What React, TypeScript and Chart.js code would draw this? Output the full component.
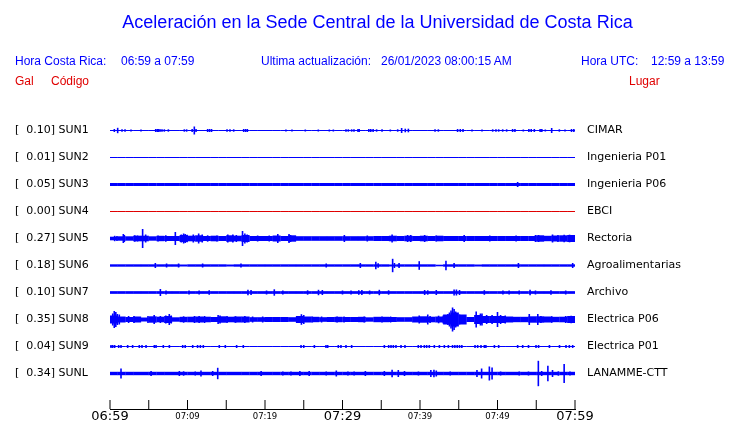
import React, { useEffect, useRef } from 'react';
import { Chart, registerables } from 'chart.js';

Chart.register(...registerables);

// ---------- text ----------
const TITLE = 'Aceleración en la Sede Central de la Universidad de Costa Rica';
const HORA_CR = '06:59 a 07:59';
const ACTUALIZACION = '26/01/2023 08:00:15 AM';
const HORA_UTC = '12:59 a 13:59';

// ---------- stations ----------
const CODES = ['SUN1', 'SUN2', 'SUN3', 'SUN4', 'SUN5', 'SUN6', 'SUN7', 'SUN8', 'SUN9', 'SUNL'];
const PEAK_GAL = [0.1, 0.01, 0.05, 0.0, 0.27, 0.18, 0.1, 0.35, 0.04, 0.34];
const PLACES = ['CIMAR', 'Ingenieria P01', 'Ingenieria P06', 'EBCI', 'Rectoria', 'Agroalimentarias', 'Archivo', 'Electrica P06', 'Electrica P01', 'LANAMME-CTT'];

// ---------- time axis (minutes after 06:59) ----------
const TIME_TICKS = [0, 5, 10, 15, 20, 25, 30, 35, 40, 45, 50, 55, 60];
const TIME_LABELS = ['06:59', '', '07:09', '', '07:19', '', '07:29', '', '07:39', '', '07:49', '', '07:59'];
const TIME_MAJOR = [true, false, false, false, false, false, true, false, false, false, false, false, true];

// ---------- per-minute envelope (half amplitude) of each trace ----------
const SUN1_BASE = [0.5, 0.5, 0.5, 0.5, 0.5, 0.5, 0.5, 0.5, 0.5, 0.5, 0.5, 0.5, 0.5, 0.5, 0.5, 0.5, 0.5, 0.5, 0.5, 0.5, 0.5, 0.5, 0.5, 0.5, 0.5, 0.5, 0.5, 0.5, 0.5, 0.5, 0.5, 0.5, 0.5, 0.5, 0.5, 0.5, 0.5, 0.5, 0.5, 0.5, 0.5, 0.5, 0.5, 0.5, 0.5, 0.5, 0.5, 0.5, 0.5, 0.5, 0.5, 0.5, 0.5, 0.5, 0.5, 0.5, 0.5, 0.5, 0.5, 0.5];
const SUN2_BASE = [0.5, 0.5, 0.5, 0.5, 0.5, 0.5, 0.5, 0.5, 0.5, 0.5, 0.5, 0.5, 0.5, 0.5, 0.5, 0.5, 0.5, 0.5, 0.5, 0.5, 0.5, 0.5, 0.5, 0.5, 0.5, 0.5, 0.5, 0.5, 0.5, 0.5, 0.5, 0.5, 0.5, 0.5, 0.5, 0.5, 0.5, 0.5, 0.5, 0.5, 0.5, 0.5, 0.5, 0.5, 0.5, 0.5, 0.5, 0.5, 0.5, 0.5, 0.5, 0.5, 0.5, 0.5, 0.5, 0.5, 0.5, 0.5, 0.5, 0.5];
const SUN3_BASE = [1.5, 1.5, 1.5, 1.5, 1.5, 1.5, 1.5, 1.5, 1.5, 1.5, 1.5, 1.5, 1.5, 1.5, 1.5, 1.5, 1.5, 1.5, 1.5, 1.5, 1.5, 1.5, 1.5, 1.5, 1.5, 1.5, 1.5, 1.5, 1.5, 1.5, 1.5, 1.5, 1.5, 1.5, 1.5, 1.5, 1.5, 1.5, 1.5, 1.5, 1.5, 1.5, 1.5, 1.5, 1.5, 1.5, 1.5, 1.5, 1.5, 1.5, 1.5, 1.5, 1.5, 1.5, 1.5, 1.5, 1.5, 1.5, 1.5, 1.5];
const SUN4_BASE = [0.5, 0.5, 0.5, 0.5, 0.5, 0.5, 0.5, 0.5, 0.5, 0.5, 0.5, 0.5, 0.5, 0.5, 0.5, 0.5, 0.5, 0.5, 0.5, 0.5, 0.5, 0.5, 0.5, 0.5, 0.5, 0.5, 0.5, 0.5, 0.5, 0.5, 0.5, 0.5, 0.5, 0.5, 0.5, 0.5, 0.5, 0.5, 0.5, 0.5, 0.5, 0.5, 0.5, 0.5, 0.5, 0.5, 0.5, 0.5, 0.5, 0.5, 0.5, 0.5, 0.5, 0.5, 0.5, 0.5, 0.5, 0.5, 0.5, 0.5];
const SUN5_BASE = [1.8, 2.2, 2.2, 2.8, 2.8, 2.2, 2.7, 2.5, 2.5, 3.5, 2.8, 3.2, 2.5, 2.8, 2.5, 3.2, 2.8, 3.5, 2.5, 2.5, 2.5, 3.0, 2.5, 3.2, 2.3, 2.3, 2.3, 2.3, 2.3, 2.3, 2.3, 2.3, 2.3, 2.3, 2.5, 2.5, 2.8, 2.5, 2.8, 2.5, 2.8, 2.5, 2.8, 2.5, 2.5, 2.5, 2.5, 2.5, 2.5, 2.5, 2.5, 2.5, 2.5, 2.5, 2.5, 3.2, 2.7, 3.0, 3.2, 3.5];
const SUN6_BASE = [1.2, 1.2, 1.2, 1.2, 1.2, 1.2, 1.2, 1.2, 1.2, 1.0, 1.2, 1.2, 1.2, 1.2, 1.2, 1.0, 1.2, 1.2, 1.2, 1.2, 1.2, 1.2, 1.2, 1.2, 1.2, 1.2, 1.2, 1.2, 1.2, 1.2, 1.2, 1.2, 1.2, 1.2, 1.2, 1.2, 1.0, 1.2, 1.2, 1.2, 1.2, 1.2, 0.8, 1.2, 1.2, 1.2, 1.2, 1.0, 1.2, 1.2, 1.2, 1.2, 1.2, 1.2, 1.2, 1.2, 1.2, 1.2, 1.2, 1.2];
const SUN7_BASE = [1.35, 1.35, 1.35, 1.35, 1.35, 1.35, 1.35, 1.35, 1.35, 1.35, 1.35, 1.35, 1.35, 1.35, 1.35, 1.35, 1.35, 1.35, 1.35, 1.35, 1.35, 1.35, 1.35, 1.35, 1.35, 1.35, 1.35, 1.35, 1.35, 1.35, 1.35, 1.35, 1.35, 1.35, 1.35, 1.35, 1.35, 1.35, 1.35, 1.35, 1.35, 1.35, 1.35, 1.35, 1.35, 1.35, 1.35, 1.35, 1.35, 1.35, 1.35, 1.35, 1.35, 1.35, 1.35, 1.35, 1.35, 1.35, 1.35, 1.35];
const SUN8_BASE = [4.0, 3.0, 2.5, 3.0, 2.0, 3.2, 2.8, 3.5, 2.2, 2.7, 2.8, 3.0, 2.8, 2.5, 3.2, 2.8, 3.0, 3.0, 2.3, 2.3, 2.5, 2.5, 2.5, 2.3, 3.5, 3.0, 2.7, 2.3, 2.5, 2.7, 2.5, 2.5, 2.7, 2.2, 2.7, 2.7, 2.5, 2.3, 2.3, 3.0, 3.2, 2.8, 3.0, 5.0, 7.0, 5.0, 2.5, 4.5, 3.5, 3.5, 3.5, 3.0, 2.7, 2.7, 3.2, 3.2, 3.0, 2.7, 2.8, 3.5];
const SUN9_BASE = [0.5, 0.5, 0.5, 0.5, 0.5, 0.5, 0.5, 0.5, 0.5, 0.5, 0.5, 0.5, 0.5, 0.5, 0.5, 0.5, 0.5, 0.5, 0.5, 0.5, 0.5, 0.5, 0.5, 0.5, 0.5, 0.5, 0.5, 0.5, 0.5, 0.5, 0.5, 0.5, 0.5, 0.5, 0.5, 0.5, 0.5, 0.5, 0.5, 0.5, 0.5, 0.5, 0.5, 0.5, 0.5, 0.5, 0.5, 0.5, 0.5, 0.5, 0.5, 0.5, 0.5, 0.5, 0.5, 0.5, 0.5, 0.5, 0.5, 0.5];
const SUNL_BASE = [1.7, 1.7, 1.7, 1.7, 1.7, 1.7, 1.7, 1.7, 1.7, 1.7, 1.7, 1.7, 1.7, 1.7, 1.7, 1.7, 1.7, 1.7, 1.7, 1.7, 1.7, 1.7, 1.7, 1.7, 1.7, 1.7, 1.7, 1.7, 1.7, 1.7, 1.7, 1.7, 1.7, 1.7, 1.7, 1.7, 1.7, 1.7, 1.7, 1.7, 1.7, 1.7, 1.7, 1.7, 1.7, 1.7, 1.7, 1.7, 1.7, 1.7, 1.7, 1.7, 1.7, 1.7, 1.7, 1.7, 1.7, 1.7, 1.7, 1.7];

// ---------- individual peaks: [minute, half amplitude] ----------
const SUN1_PEAKS = [[0.56, 1.5], [0.99, 2.7], [1.55, 1.2], [1.94, 1.2], [2.71, 1], [4.0, 1], [5.9, 1.5], [6.1, 1.5], [6.3, 1.5], [6.49, 1.2], [6.71, 1.2], [7.01, 1.2], [7.53, 1.2], [9.59, 1.2], [9.89, 1.2], [10.6, 1.5], [10.88, 4], [11.1, 1.5], [12.6, 1.5], [12.85, 1.5], [13.1, 1.5], [15.1, 1.2], [15.48, 1.2], [15.96, 1.2], [17.25, 1.5], [17.5, 1.5], [17.72, 1.5], [22.7, 1], [23.48, 1], [25.2, 1], [26.88, 1], [28.3, 1], [28.82, 1], [30.45, 1.2], [30.75, 1.2], [31.18, 1.2], [31.48, 1.2], [32.0, 1.5], [32.15, 1.5], [33.4, 1.5], [33.65, 1.5], [33.95, 1.5], [34.4, 1.2], [35.1, 1.2], [36.17, 1], [37.12, 1.2], [37.63, 2.5], [38.1, 1.8], [38.5, 1.8], [41.94, 1.2], [42.37, 1.2], [44.85, 1.5], [45.2, 1.5], [45.55, 1.5], [46.71, 1], [48.0, 1], [49.38, 1.2], [49.8, 1.2], [50.15, 1.2], [50.67, 1.2], [51.18, 1.2], [51.95, 1.5], [52.25, 1.5], [53.33, 1], [54.05, 1.5], [54.35, 1.5], [54.75, 1.5], [55.5, 1.5], [55.72, 1.5], [56.17, 1], [56.99, 2.5], [57.98, 1.2], [58.71, 1], [59.55, 1.5], [59.85, 1.5]];
const SUN2_PEAKS: number[][] = [];
const SUN3_PEAKS = [[52.6, 2.5]];
const SUN4_PEAKS: number[][] = [];
const SUN5_PEAKS = [[0.6, 2.7], [0.9, 2.5], [1.72, 4.5], [1.85, 3.5], [3.2, 3.2], [3.55, 3], [4.21, 9.5], [4.6, 4], [6.2, 3], [7.2, 3.2], [8.43, 6.5], [9.2, 4], [9.5, 5], [9.7, 4.5], [9.95, 3.8], [10.75, 4], [11.44, 5], [11.9, 4], [12.6, 3.2], [13.8, 3], [15.2, 4], [15.85, 4], [16.3, 3.5], [17.1, 7.5], [17.4, 5], [17.7, 4], [19.05, 3], [20.55, 3], [21.65, 4.5], [23.1, 4.5], [23.3, 3.5], [30.24, 3.5], [33.2, 3], [36.4, 4], [38.4, 3.5], [38.8, 3.5], [40.6, 3.5], [42.1, 3], [45.7, 3.5], [49.0, 3], [52.4, 3], [54.9, 3.5], [55.3, 3.5], [57.1, 4], [57.8, 3.5], [58.6, 3.8], [59.3, 3.8]];
const SUN6_PEAKS = [[5.85, 2.5], [7.3, 2], [8.85, 2], [11.95, 2], [16.9, 2], [27.9, 2], [32.3, 2.5], [34.3, 3.7], [34.6, 2.2], [36.47, 6.7], [36.7, 2.5], [37.3, 2.5], [39.9, 4.3], [43.35, 4.8], [44.4, 2.5], [52.7, 2.5], [59.7, 2.5]];
const SUN7_PEAKS = [[6.5, 3.5], [7.23, 2], [10.2, 2], [11.5, 2], [12.8, 2.3], [17.8, 2.7], [18.2, 2.5], [20.2, 2], [21.2, 3.2], [22.3, 2], [25.5, 2.2], [26.9, 2.7], [27.4, 2.5], [30.0, 2], [31.1, 2], [32.1, 2.3], [32.5, 2.5], [33.5, 2], [34.75, 2.7], [35.95, 2.2], [40.6, 2.5], [41.0, 2.2], [42.1, 2.5], [44.4, 3], [44.7, 3], [45.1, 2.5], [48.3, 2.3], [50.7, 2], [51.5, 2], [52.8, 2], [54.2, 2.7], [54.9, 2], [56.9, 2.3], [58.8, 2]];
const SUN8_PEAKS = [[0.35, 6], [0.55, 8.5], [0.75, 7.5], [0.95, 5.5], [1.2, 5], [2.4, 3.5], [3.1, 3.5], [4.9, 3.5], [5.7, 4.5], [6.5, 3.5], [7.2, 4], [7.65, 5.5], [7.9, 4], [9.5, 3.2], [10.9, 3.5], [11.5, 3.5], [12.2, 3.5], [13.95, 4.5], [14.2, 4], [15.1, 3.5], [16.2, 3.3], [17.4, 3.5], [18.4, 3], [19.7, 3], [24.7, 5.3], [25.0, 4.5], [26.1, 3], [27.3, 3], [29.3, 3], [30.2, 3], [32.8, 3], [35.1, 3], [36.2, 3], [39.9, 4], [41.0, 5], [41.3, 3.5], [42.4, 3.8], [43.0, 4], [43.6, 5.5], [43.8, 7], [44.0, 9], [44.2, 12], [44.4, 10.5], [44.6, 8], [44.8, 6.5], [45.1, 5], [45.4, 4], [47.25, 8], [47.8, 6], [48.0, 6], [48.6, 4.5], [49.3, 4.5], [50.0, 7.5], [50.4, 4.5], [51.0, 4], [54.1, 5.5], [55.2, 5.5], [55.6, 3.5], [57.0, 3.3], [58.8, 3.5], [59.5, 3.7]];
const SUN9_PEAKS = [[0.13, 1.5], [0.35, 1.5], [0.6, 1.5], [1.12, 1.5], [1.42, 1.5], [2.28, 1.5], [2.92, 1.5], [3.78, 1.5], [4.13, 1.5], [4.65, 1.5], [5.72, 1.5], [5.94, 1.5], [6.88, 1.5], [7.66, 1.5], [9.38, 1.5], [9.7, 1.5], [10.67, 1.5], [11.3, 1.5], [11.66, 1.5], [12.04, 1.5], [14.1, 1.5], [14.88, 1.5], [16.34, 1.5], [17.2, 1.5], [24.65, 1.5], [25.0, 1.5], [26.37, 1.5], [27.87, 1.5], [28.09, 1.5], [29.46, 1.5], [29.8, 1.5], [30.45, 1.5], [31.18, 1.5], [35.4, 1.5], [35.96, 1.5], [36.26, 1.5], [36.56, 1.5], [36.9, 1.5], [37.55, 1.5], [38.06, 1.5], [39.78, 1.5], [40.13, 1.5], [40.56, 1.5], [40.86, 1.5], [41.2, 1.5], [41.85, 1.5], [42.5, 1.5], [43.14, 1.5], [43.66, 1.5], [44.2, 1.5], [44.5, 1.5], [44.8, 1.5], [45.1, 1.5], [45.4, 1.5], [47.1, 1.5], [47.44, 1.5], [47.87, 1.5], [48.3, 1.5], [48.5, 1.5], [49.6, 1.5], [50.15, 1.5], [52.6, 1.5], [53.25, 1.5], [54.0, 1.5], [54.97, 1.5], [55.3, 1.5], [56.7, 1.5], [58.0, 1.5], [58.84, 1.5], [59.27, 1.5], [59.7, 1.5]];
const SUNL_PEAKS = [[1.42, 5], [5.3, 2.5], [8.95, 2.5], [9.5, 2.2], [11.0, 2], [11.74, 3], [13.25, 2.5], [13.9, 5.7], [19.5, 2.5], [22.3, 2], [23.35, 2], [24.5, 2.5], [25.7, 2.5], [27.9, 2], [29.2, 3], [30.7, 2], [31.5, 2], [32.95, 2.5], [35.4, 2.5], [36.4, 3.7], [37.2, 3.5], [38.0, 2.5], [39.8, 2], [41.4, 3.5], [41.8, 3.7], [42.1, 3], [43.9, 2], [47.35, 3.5], [47.95, 5], [48.95, 7], [49.3, 6], [50.4, 2], [52.8, 2], [54.0, 2], [55.27, 12.7], [55.7, 2.5], [56.5, 7.8], [57.1, 3.5], [57.85, 2.2], [58.6, 9.5], [59.35, 2]];

const BASES = [SUN1_BASE, SUN2_BASE, SUN3_BASE, SUN4_BASE, SUN5_BASE, SUN6_BASE, SUN7_BASE, SUN8_BASE, SUN9_BASE, SUNL_BASE];
const PEAKS = [SUN1_PEAKS, SUN2_PEAKS, SUN3_PEAKS, SUN4_PEAKS, SUN5_PEAKS, SUN6_PEAKS, SUN7_PEAKS, SUN8_PEAKS, SUN9_PEAKS, SUNL_PEAKS];

// ---------- layout / style ----------
const ROW_GAP = 27;
const Y_MIN = -20.5;
const Y_MAX = 278.5;
const TICK_MARK_Y = 274;
const BLUE = '#0000ff';
const RED = '#e00000';
const TRACE_COLORS = [BLUE, BLUE, BLUE, RED, BLUE, BLUE, BLUE, BLUE, BLUE, BLUE];
const SANS = '"Liberation Sans", Arial, sans-serif';
const DEJAVU = '"DejaVu Sans", sans-serif';

const rowTicks = (scale: any) => {
  scale.ticks = CODES.map((_, i) => ({ value: i * ROW_GAP }));
};

export default function App() {
  const ref = useRef<HTMLCanvasElement | null>(null);

  useEffect(() => {
    if (!ref.current) return;
    const datasets: any[] = [];
    CODES.forEach((code, i) => {
      const c = i * ROW_GAP;
      datasets.push({
        type: 'bar',
        label: code,
        data: BASES[i].map((a, k) => ({ x: k + 0.5, y: [c - a, c + a] })),
        backgroundColor: TRACE_COLORS[i],
        borderWidth: 0,
        barThickness: 8,
        grouped: false,
        inflateAmount: 0,
        xAxisID: 'x',
        yAxisID: 'y',
      });
      if (PEAKS[i].length) {
        datasets.push({
          type: 'bar',
          label: code + ' picos',
          data: PEAKS[i].map(([m, a]) => ({ x: m, y: [c - a, c + a] })),
          backgroundColor: TRACE_COLORS[i],
          borderWidth: 0,
          barThickness: 1.6,
          grouped: false,
          inflateAmount: 0,
          xAxisID: 'x',
          yAxisID: 'y',
        });
      }
    });
    datasets.push({
      type: 'scatter',
      label: 'marcas',
      data: TIME_TICKS.map((t) => ({ x: t, y: TICK_MARK_Y })),
      pointStyle: 'line',
      rotation: 90,
      radius: 4.5,
      borderColor: '#000',
      borderWidth: 1,
      clip: false,
      xAxisID: 'x',
      yAxisID: 'y',
    });

    const chart = new Chart(ref.current, {
      type: 'bar',
      data: { datasets },
      options: {
        animation: false,
        responsive: false,
        events: [],
        layout: { padding: { left: 15, right: 0, top: 0, bottom: 0 } },
        plugins: {
          legend: { display: false },
          tooltip: { enabled: false },
          title: {
            display: true,
            text: TITLE,
            color: BLUE,
            font: { family: SANS, size: 18, weight: 'normal', lineHeight: 1.2 },
            padding: { top: 12, bottom: 76.4 },
          },
        },
        scales: {
          x: {
            type: 'linear',
            position: 'bottom',
            min: 0,
            max: 60,
            offset: false,
            afterBuildTicks: (s: any) => {
              s.ticks = TIME_TICKS.map((v) => ({ value: v }));
            },
            afterFit: (s: any) => {
              s.height = 14;
            },
            grid: { display: false, drawTicks: false },
            border: { display: true, color: '#000', width: 1 },
            ticks: {
              autoSkip: false,
              maxRotation: 0,
              padding: 1.3,
              color: '#000',
              callback: (_v: any, i: number) => TIME_LABELS[i],
              font: (ctx: any) =>
                TIME_MAJOR[ctx.index]
                  ? { family: DEJAVU, size: 13, lineHeight: 1 }
                  : { family: DEJAVU, size: 8.5, lineHeight: 1.43 },
            },
          },
          y: {
            type: 'linear',
            position: 'left',
            reverse: true,
            min: Y_MIN,
            max: Y_MAX,
            afterBuildTicks: rowTicks,
            afterFit: (s: any) => {
              s.width = 95;
            },
            grid: { display: false, drawTicks: false },
            border: { display: false },
            ticks: {
              crossAlign: 'far',
              padding: 0,
              color: '#000',
              font: { family: DEJAVU, size: 11 },
              callback: (_v: any, i: number) => `[  ${PEAK_GAL[i].toFixed(2)}] ${CODES[i]}`,
            },
          },
          yR: {
            type: 'linear',
            position: 'right',
            reverse: true,
            min: Y_MIN,
            max: Y_MAX,
            afterBuildTicks: rowTicks,
            afterFit: (s: any) => {
              s.width = 165;
            },
            grid: { display: false, drawTicks: true, tickLength: 12 },
            border: { display: false },
            ticks: {
              crossAlign: 'near',
              padding: 0,
              color: '#000',
              font: { family: DEJAVU, size: 11 },
              callback: (_v: any, i: number) => PLACES[i],
            },
          },
        },
      } as any,
    });
    return () => chart.destroy();
  }, []);

  const txt = (left: number, top: number, color: string, s: string) => (
    <span
      style={{
        position: 'absolute',
        left,
        top,
        color,
        font: `12px ${SANS}`,
        lineHeight: '14px',
        whiteSpace: 'pre',
      }}
    >
      {s}
    </span>
  );

  return (
    <div style={{ position: 'absolute', left: 0, top: 0, width: 740, height: 423, background: '#fff' }}>
      <canvas ref={ref} width={740} height={423} style={{ display: 'block', width: 740, height: 423 }} />
      {txt(15, 54, BLUE, 'Hora Costa Rica:')}
      {txt(121, 54, BLUE, HORA_CR)}
      {txt(261, 54, BLUE, 'Ultima actualización:')}
      {txt(381, 54, BLUE, ACTUALIZACION)}
      {txt(581, 54, BLUE, 'Hora UTC:')}
      {txt(651, 54, BLUE, HORA_UTC)}
      {txt(15, 74, RED, 'Gal')}
      {txt(51, 74, RED, 'Código')}
      {txt(629, 74, RED, 'Lugar')}
    </div>
  );
}
